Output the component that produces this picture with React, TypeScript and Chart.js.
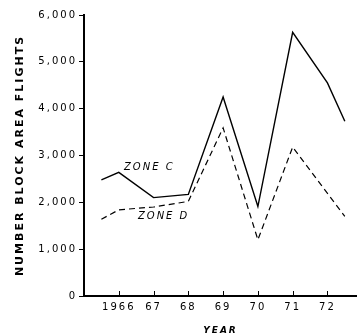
import React, { useEffect, useRef } from "react";
import { Chart, registerables } from "chart.js";

Chart.register(...registerables);

const zoneCYears = [1965.5, 1966, 1967, 1968, 1969, 1970, 1971, 1972, 1972.5];
const zoneCValues = [2480, 2640, 2100, 2170, 4250, 1910, 5630, 4550, 3730];
const zoneDYears = [1965.5, 1966, 1967, 1968, 1969, 1970, 1971, 1972.5];
const zoneDValues = [1640, 1840, 1900, 2020, 3590, 1200, 3180, 1700];
const tickYears = [1966, 1967, 1968, 1969, 1970, 1971, 1972];
const tickLabels = ["1966", "67", "68", "69", "70", "71", "72"];
const yTicks = [0, 1000, 2000, 3000, 4000, 5000, 6000];

const FONT = "'DejaVu Sans', sans-serif";

const spacingPlugin = {
  id: "spacing",
  beforeUpdate(chart: any) {
    chart.ctx.letterSpacing = "2px";
  },
  beforeDraw(chart: any) {
    chart.ctx.letterSpacing = "2px";
  },
};

const extrasPlugin = {
  id: "extras",
  afterDraw(chart: any) {
    const { ctx, scales } = chart;
    const x = scales.x;
    const y = scales.y;
    ctx.save();
    ctx.strokeStyle = "#000";
    ctx.lineWidth = 1;
    tickYears.forEach((v) => {
      const px = Math.round(x.getPixelForValue(v)) + 0.5;
      ctx.beginPath();
      ctx.moveTo(px, y.bottom);
      ctx.lineTo(px, y.bottom - 5);
      ctx.stroke();
    });
    ctx.fillStyle = "#000";
    ctx.font = `italic 10px ${FONT}`;
    ctx.letterSpacing = "2px";
    ctx.textBaseline = "middle";
    ctx.textAlign = "left";
    ctx.fillText("ZONE C", x.getPixelForValue(1966.15), y.getPixelForValue(2755));
    ctx.fillText("ZONE D", x.getPixelForValue(1966.55), y.getPixelForValue(1690));
    ctx.restore();
  },
};

export default function App() {
  const ref = useRef<HTMLCanvasElement>(null);
  useEffect(() => {
    if (!ref.current) return;
    const chart = new Chart(ref.current, {
      type: "scatter",
      data: {
        datasets: [
          {
            label: "ZONE C",
            data: zoneCYears.map((x, i) => ({ x, y: zoneCValues[i] })),
            showLine: true,
            borderColor: "#000",
            borderWidth: 1.4,
            pointRadius: 0,
            tension: 0,
          },
          {
            label: "ZONE D",
            data: zoneDYears.map((x, i) => ({ x, y: zoneDValues[i] })),
            showLine: true,
            borderColor: "#000",
            borderWidth: 1.2,
            borderDash: [6, 4],
            pointRadius: 0,
            tension: 0,
          },
        ],
      },
      options: {
        responsive: false,
        animation: false,
        layout: { padding: { top: 15, left: 0, right: 0, bottom: 0 } },
        plugins: { legend: { display: false }, tooltip: { enabled: false } },
        scales: {
          x: {
            type: "linear",
            min: 1965,
            max: 1972.85,
            afterBuildTicks: (s: any) => {
              s.ticks = tickYears.map((v) => ({ value: v }));
            },
            afterFit: (s: any) => {
              s.height = 38;
            },
            ticks: {
              color: "#000",
              font: { family: FONT, size: 10 },
              padding: 5,
              maxRotation: 0,
              autoSkip: false,
              callback: (v: any) => {
                const i = tickYears.indexOf(Number(v));
                return i >= 0 ? tickLabels[i] : "";
              },
            },
            grid: { drawOnChartArea: false, drawTicks: false, tickLength: 0 },
            border: { color: "#000", width: 2 },
            title: {
              display: true,
              text: "YEAR",
              color: "#000",
              font: { family: FONT, size: 9, weight: "bold", style: "italic", lineHeight: 1 },
              padding: { top: 0, bottom: -1 },
            },
          },
          y: {
            min: 0,
            max: 6000,
            afterBuildTicks: (s: any) => {
              s.ticks = yTicks.map((v) => ({ value: v }));
            },
            afterFit: (s: any) => {
              s.width = 84;
            },
            ticks: {
              color: "#000",
              font: { family: FONT, size: 10 },
              padding: 2,
              callback: (v: any) => Number(v).toLocaleString("en-US"),
            },
            grid: { drawOnChartArea: false, tickLength: 5, color: "#000", lineWidth: 1 },
            border: { color: "#000", width: 2 },
            title: {
              display: true,
              text: "NUMBER BLOCK AREA FLIGHTS",
              color: "#000",
              font: { family: FONT, size: 11, weight: "bold", lineHeight: 1.2 },
              padding: { top: 14, bottom: 0 },
            },
          },
        },
      },
      plugins: [spacingPlugin, extrasPlugin],
    });
    return () => chart.destroy();
  }, []);
  return (
    <div style={{ position: "absolute", left: 0, top: 0, width: 357, height: 334, background: "#fff" }}>
      <canvas ref={ref} width={357} height={334} style={{ display: "block" }} />
    </div>
  );
}
